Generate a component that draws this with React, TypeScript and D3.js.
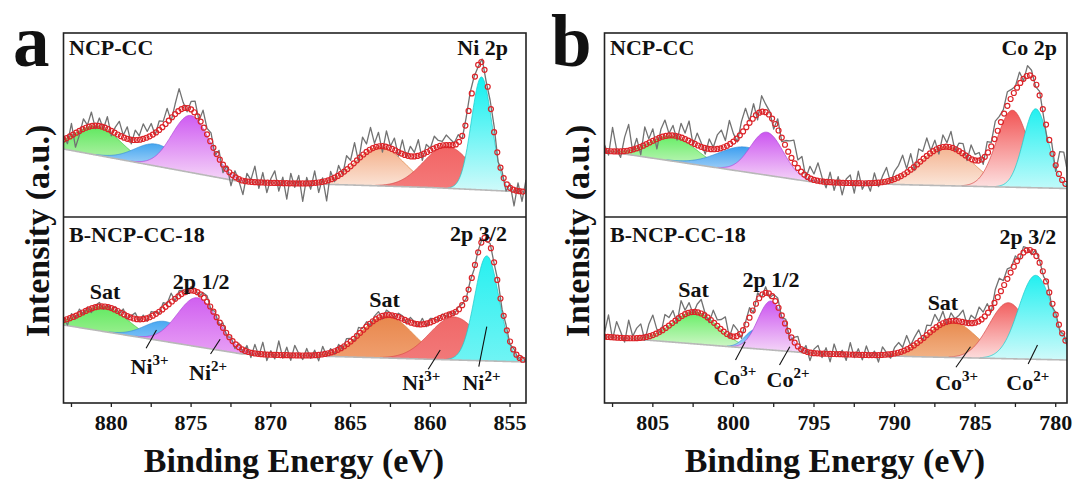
import React from 'react';
import * as d3 from 'd3';

type Peak = [number, number, number]; // [center eV, height (a.u.), FWHM eV]
type Pt = [number, number];

// ---------- DATA ----------
const niTicks = [880, 875, 870, 865, 860, 855];
const coTicks = [805, 800, 795, 790, 785, 780];
const niDomain: Pt = [883, 854];
const coDomain: Pt = [808, 779.3];

// fitted components: Sat(2p1/2), M3+, M2+, Sat(2p3/2), M3+, M2+
const niTopPeaks: Peak[] = [[880.84, 29, 3.4], [877.17, 22, 3.2], [875.01, 57, 2.8], [863.15, 39, 3.6], [858.94, 42, 3.5], [856.79, 113, 1.5]];
const niBotPeaks: Peak[] = [[880.4, 25, 3.4], [876.63, 20, 3.0], [874.58, 49, 3.0], [862.72, 42, 3.8], [858.51, 43, 3.6], [856.46, 105, 1.8]];
const coTopPeaks: Peak[] = [[803.76, 25, 3.4], [799.17, 25, 4.1], [797.93, 43, 2.4], [786.78, 39, 3.8], [782.69, 77, 2.3], [781.24, 79, 1.8]];
const coBotPeaks: Peak[] = [[802.37, 32, 3.3], [798.64, 19, 1.5], [797.67, 49, 1.9], [786.47, 36, 3.6], [782.94, 56, 2.8], [781.24, 84, 2.5]];

// Shirley-type backgrounds [eV, intensity]
const niTopBg: Pt[] = [[883, 68], [871.8, 35], [865, 32], [860, 29.5], [854, 25]];
const niBotBg: Pt[] = [[883, 78], [871.8, 49], [865, 46], [854, 41]];
const coTopBg: Pt[] = [[808, 66], [795.1, 35], [788.7, 32], [779.3, 28.5]];
const coBotBg: Pt[] = [[808, 66.3], [795.1, 49.7], [788.7, 46.3], [779.3, 43]];

// raw spectrum: residual from the fit envelope, every 0.25 eV from the high-energy edge
const niTopResid = [4, -6, 12, -14, -4, 10, 2, 14, -3, 8, -2, 12, -5,
  6, 14, 2, 12, -4, 10, 4, 15, 6, 12, -2, 9,
  5, 14, -3, 10, 22, 6, -4, 8,
  12, -2, 16, 6, 10, -4, 8, -8, 4, -12, 6, -2,
  -14, 8, 2, 16, -6, 10, -10, 4, 12, -8, 6, -16, 10, -4, 8, -18, 6, -6, 12, -10, 4, -20, 8, -4,
  10, -2, 14, 6, 20, -3, 18, 8, 22, 4, 14, -6, 16, 2, 12, -4,
  14, -2, 10, 4, 16, -6, 8, 2, 12, 6, 4, 10,
  6, 2, 8, -3, 5, 10, 4, -2,
  4, -4, 3, 6, -5, 2, -8, 4,
  -16, 8, -10, 12];
const niBotResid = [2, -6, 4, -3, 5, -2, 3, -4, 2, 4, -3, 2, -2,
  3, -2, 5, -3, 2, 6, -2, 4, -3, 5, 2, -2,
  6, 2, 9, -2, 5, 3, -3, 4,
  2, -3, 4, 6, -2, 3, -4, 5, -3, 2, -5, 4,
  -3, 6, -5, 9, -2, 12, -6, 4, -4, 14, -3, 8, -5, 10, 2, -4, 7, -3, 5, -6, 8, -2, 4, -3,
  5, -2, 6, 3, -3, 7, 2, 5, -2, 4, 6, -3, 5, 2, -2, 4,
  3, -3, 5, 2, -2, 6, -3, 4, 2, -2, 3, -1,
  2, -2, 3, 1, -2, 3, -1, 2,
  2, -3, 2, -1, 3, -2, 2, -3,
  2, -2, 3, -1];
const coTopResid = [6, -4, 24, 2, -6, 14, 26, -2, 10, -8, 18, 4, 12, -10, 8, 16, 2,
  10, -4, 14, 6, 20, -2, 12, 4, -6, 10, 2, 14,
  18, 6, 24, 8, -4, 12, 20, 2, 14, -6, 16, 8,
  4, -8, 10, -4, 6, 14, 22, 8, 16, -2, 12, 6,
  18, 4, -6, 10, -8, 6, -12, 4, 8, -10, 12, -6, 2, -8, 10, -4, 6, 14, -2, 8,
  12, 20, 4, 16, -4, 14, 8, 18, 2, 10, -6, 12, 4, 16, -2, 8,
  10, -4, 14, 6, 8, -6, 12, 4, 16, 10, 6, 14,
  8, 4, 12, -2, 10, 6, -4, 4,
  -4, -10, 8, -6, 24, 30, 12];
const coBotResid = [4, 22, -2, 16, 6, -4, 18, 2, 10, 14, -3, 12, 20, 4, -2, 14, 8,
  12, -4, 16, 4, 10, -2, 8, 14, 2, -4, 12, 6,
  10, 16, -2, 12, 6, -6, 4, 10, -4, 8, -2, 6,
  -4, 4, 8, -2, 6, -6, 4, 10, -3, 6, -8, 4,
  8, -4, 6, -8, 10, -2, 4, -6, 12, -3, 6, -5, 9, -2, 4, -7, 8, 2, -4, 6,
  10, 4, 14, 2, 8, 12, -2, 10, 6, 14, 4, 12, -3, 8, 2, 6,
  12, -2, 8, 4, 14, 6, 10, -4, 12, 16, 6, 10,
  4, 8, -3, 6, 2, -4, 5, 2,
  -3, 4, -5, 2, -4, 3, -2];

// annotations [text, superscript, eV, intensity] and leader lines [eV1, I1, eV2, I2]
type Ann = [string, string, number, number];
type Lead = [number, number, number, number];
const niAnn: Ann[] = [['Sat', '', 880.4, 104], ['2p 1/2', '', 874.37, 114], ['Sat', '', 862.87, 96], ['2p 3/2', '', 856.98, 162],
  ['Ni', '3+', 877.6, 29], ['Ni', '2+', 873.93, 23], ['Ni', '3+', 860.56, 13], ['Ni', '2+', 856.79, 13]];
const niLeads: Lead[] = [[877.82, 54.7, 877.17, 73], [873.78, 49, 873.18, 63.7], [860.13, 33.7, 859.38, 53], [856.96, 36.3, 856.46, 76.3]];
const coAnn: Ann[] = [['Sat', '', 802.48, 106], ['2p 1/2', '', 797.67, 116], ['Sat', '', 787.0, 93], ['2p 3/2', '', 781.73, 159],
  ['Co', '3+', 799.91, 18], ['Co', '2+', 796.61, 16], ['Co', '3+', 786.15, 13], ['Co', '2+', 781.73, 13]];
const coLeads: Lead[] = [[799.87, 43, 799.27, 61.3], [797.14, 38, 796.5, 56.3], [786.19, 35.7, 785.29, 56.3], [781.71, 39, 781.13, 58]];

// ---------- STYLE ----------
const FONT = '"Liberation Serif", "Times New Roman", Times, serif';
const W = 1077, H = 484;
const TOP = 33, MID = 217, BOT = 403;
const stroke = ['#49c049', '#3a8fd6', '#b048d8', '#de8440', '#d84a4a', '#1ccaca'];
const niTopFill = [['#5ee85e', '#c5f3b8'], ['#45a6f0', '#d2e8fb'], ['#cf5cf2', '#f6d8f8'], ['#f4b08a', '#fbe6da'], ['#f26464', '#f47c7c'], ['#10f0f0', '#d0fafa']];
const niBotFill = [['#62ea62', '#a8f09a'], ['#4aa8f2', '#9cd0f8'], ['#d060f0', '#e8a0f5'], ['#e8874c', '#f0a070'], ['#f06868', '#f27a7a'], ['#28f0f0', '#70f4f4']];
const coTopFill = [['#66ee66', '#d0f5c8'], ['#3d9ff0', '#d5e9fb'], ['#cc55f0', '#f5d5f8'], ['#f4b390', '#fbe8dc'], ['#f25555', '#fde2e2'], ['#22f0f0', '#c0fafa']];
const coBotFill = [['#66ee66', '#d5f7cc'], ['#3a9ef0', '#cfe6fb'], ['#cc55f0', '#f5d8f8'], ['#e88a4e', '#f2b488'], ['#f26060', '#fde0e0'], ['#22f0f0', '#d0fafa']];

const gauss = (p: Peak, e: number) => {
  const s = p[2] / 2.3548;
  return p[1] * Math.exp(-((e - p[0]) ** 2) / (2 * s * s));
};

interface SubProps {
  id: string; x: d3.ScaleLinear<number, number>; y0: number; y1: number;
  peaks: Peak[]; bg: Pt[]; resid: number[]; fills: string[][]; domain: Pt;
}

function SubPanel({ id, x, y0, y1, peaks, bg, resid, fills, domain }: SubProps) {
  const y = d3.scaleLinear().domain([0, y1 - y0]).range([y1, y0]);
  const bgS = d3.scaleLinear().domain(bg.map(d => d[0])).range(bg.map(d => d[1])).clamp(true);
  const env = (e: number) => bgS(e) + d3.sum(peaks, p => gauss(p, e));
  const fine = d3.range(domain[0], domain[1] - 0.001, -0.05);
  const rawPts: Pt[] = resid
    .map((r, i) => [domain[0] - 0.25 * i, r] as Pt)
    .filter(d => d[0] >= domain[1] - 0.3)
    .map(d => [d[0], env(d[0]) + d[1]] as Pt);
  const rawLine = d3.line<Pt>().x(d => x(d[0])).y(d => y(d[1]));
  const circ = d3.range(domain[0], domain[1], -0.2);
  const bgLine = d3.line<number>().x(e => x(e)).y(e => y(bgS(e)));
  const [xl, xr] = x.range();
  return (
    <g>
      <defs>
        <clipPath id={`clip-${id}`}><rect x={xl} y={y0} width={xr - xl} height={y1 - y0} /></clipPath>
        {fills.map((f, i) => (
          <linearGradient key={i} id={`g-${id}-${i}`} x1="0" y1="0" x2="0" y2="1">
            <stop offset="0%" stopColor={f[0]} />
            <stop offset="100%" stopColor={f[1]} />
          </linearGradient>
        ))}
      </defs>
      <g clipPath={`url(#clip-${id})`}>
        {peaks.map((p, i) => {
          const pts = fine.filter(e => gauss(p, e) > 0.4);
          const a = d3.area<number>().x(e => x(e)).y0(e => y(bgS(e))).y1(e => y(bgS(e) + gauss(p, e)));
          const top = d3.line<number>().x(e => x(e)).y(e => y(bgS(e) + gauss(p, e)));
          return (
            <g key={i}>
              <path d={a(pts) || ''} fill={`url(#g-${id}-${i})`} />
              <path d={top(pts) || ''} fill="none" stroke={stroke[i]} strokeWidth={0.9} opacity={0.8} />
            </g>
          );
        })}
        <path d={bgLine(fine) || ''} fill="none" stroke="#b8b8b8" strokeWidth={1.6} />
        <path d={rawLine(rawPts) || ''} fill="none" stroke="#727272" strokeWidth={1.3} strokeLinejoin="round" />
        {circ.map((e, i) => (
          <circle key={i} cx={x(e)} cy={y(env(e))} r={2.5} fill="none" stroke="#dc2429" strokeWidth={1.2} />
        ))}
      </g>
    </g>
  );
}

interface PanelProps {
  id: string; left: number; right: number; domain: Pt; ticks: number[];
  topPeaks: Peak[]; botPeaks: Peak[]; topBg: Pt[]; botBg: Pt[]; topResid: number[]; botResid: number[];
  topFill: string[][]; botFill: string[][]; ann: Ann[]; leads: Lead[];
  letter: string; letterX: number; element: string; yTitleX: number; xTitleX: number; headX: number; elemRight: number;
}

function Panel(p: PanelProps) {
  const x = d3.scaleLinear().domain(p.domain).range([p.left, p.right]);
  const yb = d3.scaleLinear().domain([0, BOT - MID]).range([BOT, MID]);
  const minor = d3.range(Math.ceil(p.domain[1] / 2.5) * 2.5, p.domain[0], 2.5);
  const bold = { fontFamily: FONT, fontWeight: 700 as const, fill: '#111' };
  return (
    <g>
      <SubPanel id={`${p.id}t`} x={x} y0={TOP} y1={MID} peaks={p.topPeaks} bg={p.topBg} resid={p.topResid} fills={p.topFill} domain={p.domain} />
      <SubPanel id={`${p.id}b`} x={x} y0={MID} y1={BOT} peaks={p.botPeaks} bg={p.botBg} resid={p.botResid} fills={p.botFill} domain={p.domain} />
      <rect x={p.left} y={TOP} width={p.right - p.left} height={BOT - TOP} fill="none" stroke="#222" strokeWidth={1.6} />
      <line x1={p.left} x2={p.right} y1={MID} y2={MID} stroke="#222" strokeWidth={1.6} />
      {minor.map(t => (
        <line key={t} x1={x(t)} x2={x(t)} y1={BOT} y2={BOT + 4} stroke="#222" strokeWidth={1.3} />
      ))}
      {p.ticks.map(t => (
        <text key={t} x={x(t)} y={BOT + 27} textAnchor="middle" fontSize={22} {...bold}>{t}</text>
      ))}
      <text x={p.xTitleX} y={472} textAnchor="middle" fontSize={34} {...bold}>Binding Energy (eV)</text>
      <text transform={`translate(${p.yTitleX},231) rotate(-90)`} textAnchor="middle" fontSize={34} {...bold}>Intensity (a.u.)</text>
      <text x={p.letterX} y={66} fontSize={73} {...bold}>{p.letter}</text>
      <text x={p.headX} y={55} fontSize={22} {...bold}>NCP-CC</text>
      <text x={p.elemRight} y={55} textAnchor="end" fontSize={22} {...bold}>{p.element}</text>
      <text x={p.headX} y={242} fontSize={22} {...bold}>B-NCP-CC-18</text>
      {p.ann.map((a, i) => (
        <text key={i} x={x(a[2])} y={yb(a[3])} textAnchor="middle" fontSize={22} {...bold}>
          {a[0]}{a[1] ? <tspan fontSize={15} dy={-9}>{a[1]}</tspan> : null}
        </text>
      ))}
      {p.leads.map((l, i) => (
        <line key={i} x1={x(l[0])} y1={yb(l[1])} x2={x(l[2])} y2={yb(l[3])} stroke="#111" strokeWidth={1.1} />
      ))}
    </g>
  );
}

export default function App() {
  return (
    <svg width={W} height={H} viewBox={`0 0 ${W} ${H}`} style={{ position: 'absolute', left: 0, top: 0, background: '#fff' }}>
      <rect x={0} y={0} width={W} height={H} fill="#fff" />
      <Panel id="ni" left={63.5} right={526} domain={niDomain} ticks={niTicks}
        topPeaks={niTopPeaks} botPeaks={niBotPeaks} topBg={niTopBg} botBg={niBotBg}
        topResid={niTopResid} botResid={niBotResid} topFill={niTopFill} botFill={niBotFill}
        ann={niAnn} leads={niLeads} letter="a" letterX={13} element="Ni 2p" yTitleX={49} xTitleX={294} headX={69} elemRight={508} />
      <Panel id="co" left={604.5} right={1067} domain={coDomain} ticks={coTicks}
        topPeaks={coTopPeaks} botPeaks={coBotPeaks} topBg={coTopBg} botBg={coBotBg}
        topResid={coTopResid} botResid={coBotResid} topFill={coTopFill} botFill={coBotFill}
        ann={coAnn} leads={coLeads} letter="b" letterX={551} element="Co 2p" yTitleX={589} xTitleX={835} headX={610} elemRight={1057} />
    </svg>
  );
}
